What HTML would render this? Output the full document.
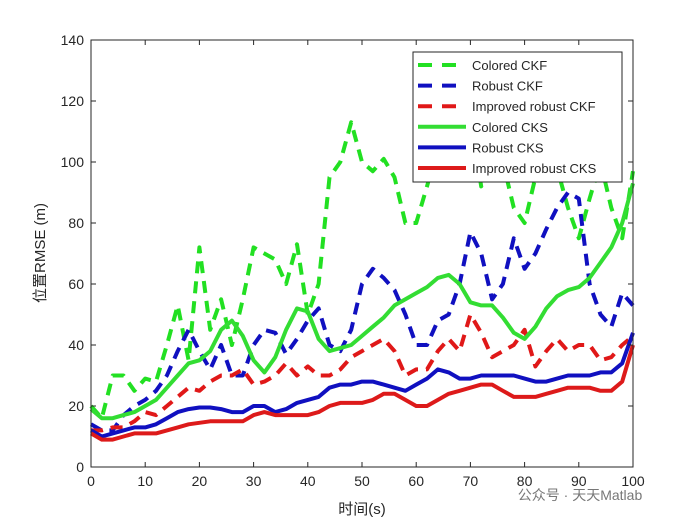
<!DOCTYPE html>
<html><head><meta charset="utf-8"><style>
body{margin:0;background:#fff;width:700px;height:525px;overflow:hidden}
svg text{font-family:"Liberation Sans","Noto Sans CJK SC",sans-serif;fill:#262626}
</style></head><body>
<svg id="chart" width="700" height="525" xmlns="http://www.w3.org/2000/svg">
<rect x="0" y="0" width="700" height="525" fill="#fff"/>
<g id="series"></g>
<g id="axes"></g>
<g id="legend"></g>
</svg>
<script>
const xs=[0,2,4,6,8,10,12,14,16,18,20,22,24,26,28,30,32,34,36,38,40,42,44,46,48,50,52,54,56,58,60,62,64,66,68,70,72,74,76,78,80,82,84,86,88,90,92,94,96,98,100];
const coloredCKF=[20,16,30,30,25,29,28,40,53,35,72,45,55,40,55,72,70,68,60,73,50,60,95,100,113,100,97,101,95,80,80,92,105,110,100,115,92,98,100,85,80,95,100,98,85,75,88,100,85,75,97];
const robustCKF=[14,12,12,17,20,22,25,30,38,45,38,32,40,30,30,40,45,44,37,42,48,52,40,38,45,60,65,62,58,50,40,40,48,50,60,77,70,55,60,75,65,70,78,85,90,88,60,50,46,57,53];
const improvedCKF=[12,12,13,13,15,18,17,20,23,26,25,28,30,30,32,27,28,30,34,30,33,30,30,32,36,38,40,42,38,30,32,32,38,42,38,50,44,36,38,40,45,33,38,42,38,40,40,35,36,40,43];
const coloredCKS=[19,16,16,17,18,20,22,26,30,34,35,38,45,48,43,35,31,36,45,52,51,42,38,39,40,43,46,49,53,55,57,59,62,63,60,54,53,53,49,44,42,46,52,56,58,59,62,67,72,80,93];
const robustCKS=[12,10,11,12,13,13,14,16,18,19,19.5,19.5,19,18,18,20,20,18,19,21,22,23,26,27,27,28,28,27,26,25,27,29,32,31,29,29,30,30,30,30,29,28,28,29,30,30,30,31,31,34,44];
const improvedCKS=[11,9,9,10,11,11,11,12,13,14,14.5,15,15,15,15,17,18,17,17,17,17,18,20,21,21,21,22,24,24,22,20,20,22,24,25,26,27,27,25,23,23,23,24,25,26,26,26,25,25,28,40];
const xTicks=[0,10,20,30,40,50,60,70,80,90,100];
const yTicks=[0,20,40,60,80,100,120,140];
const L=91,R=633,T=40,B=467;
const X=v=>L+(v-0)/100*(R-L);
const Y=v=>B-(v/140)*(B-T);
const NS="http://www.w3.org/2000/svg";
function mk(t,a,p){const e=document.createElementNS(NS,t);for(const k in a)e.setAttribute(k,a[k]);p.appendChild(e);return e;}
const S=document.getElementById('series');
const defs=[
 ['colored-ckf-line',coloredCKF,'#22e022','12,8'],
 ['robust-ckf-line',robustCKF,'#1010c0','12,8'],
 ['improved-robust-ckf-line',improvedCKF,'#e01818','12,8'],
 ['colored-cks-line',coloredCKS,'#33dd33',''],
 ['robust-cks-line',robustCKS,'#1010c0',''],
 ['improved-robust-cks-line',improvedCKS,'#dd1a1a','']];
defs.forEach(d=>{
 const pts=xs.map((x,i)=>X(x).toFixed(1)+','+Y(d[1][i]).toFixed(1)).join(' ');
 const p=mk('polyline',{points:pts,fill:'none',stroke:d[2],'stroke-width':4,'stroke-linejoin':'round','stroke-dasharray':d[3]||'none'},S);
 
 
});
const A=document.getElementById('axes');
mk('rect',{x:L,y:T,width:R-L,height:B-T,fill:'none',stroke:'#262626','stroke-width':1},A);
xTicks.forEach(t=>{
 mk('line',{x1:X(t),x2:X(t),y1:B,y2:B-5,stroke:'#262626'},A);
 mk('line',{x1:X(t),x2:X(t),y1:T,y2:T+5,stroke:'#262626'},A);
 const tx=mk('text',{x:X(t),y:B+19,'font-size':14,'text-anchor':'middle'},A);tx.textContent=t;
 
 
});
yTicks.forEach(t=>{
 mk('line',{x1:L,x2:L+5,y1:Y(t),y2:Y(t),stroke:'#262626'},A);
 mk('line',{x1:R,x2:R-5,y1:Y(t),y2:Y(t),stroke:'#262626'},A);
 const tx=mk('text',{x:L-7,y:Y(t)+5,'font-size':14,'text-anchor':'end'},A);tx.textContent=t;
 
 
});
const xl=mk('text',{x:362,y:514,'font-size':15,'text-anchor':'middle'},A);xl.textContent='时间(s)';


const yl=mk('text',{x:0,y:0,'font-size':15,'text-anchor':'middle',transform:'translate(45,253) rotate(-90)'},A);yl.textContent='位置RMSE (m)';


const G=document.getElementById('legend');
mk('rect',{x:413,y:52,width:209,height:130,fill:'#fff',stroke:'#262626'},G);
const names=['Colored CKF','Robust CKF','Improved robust CKF','Colored CKS','Robust CKS','Improved robust CKS'];
defs.forEach((d,i)=>{
 const y=65+i*20.6;
 mk('line',{x1:418,x2:466,y1:y,y2:y,stroke:d[2],'stroke-width':4,'stroke-dasharray':d[3]?'14,10':'none'},G);
 const t=mk('text',{x:472,y:y+5,'font-size':13},G);t.textContent=names[i];
 
 
});
const w=mk('text',{x:580,y:500,'font-size':14,'text-anchor':'middle',fill:'#888'},A);w.textContent='公众号 · 天天Matlab';
w.style.fill='#777';


</script>
</body></html>
